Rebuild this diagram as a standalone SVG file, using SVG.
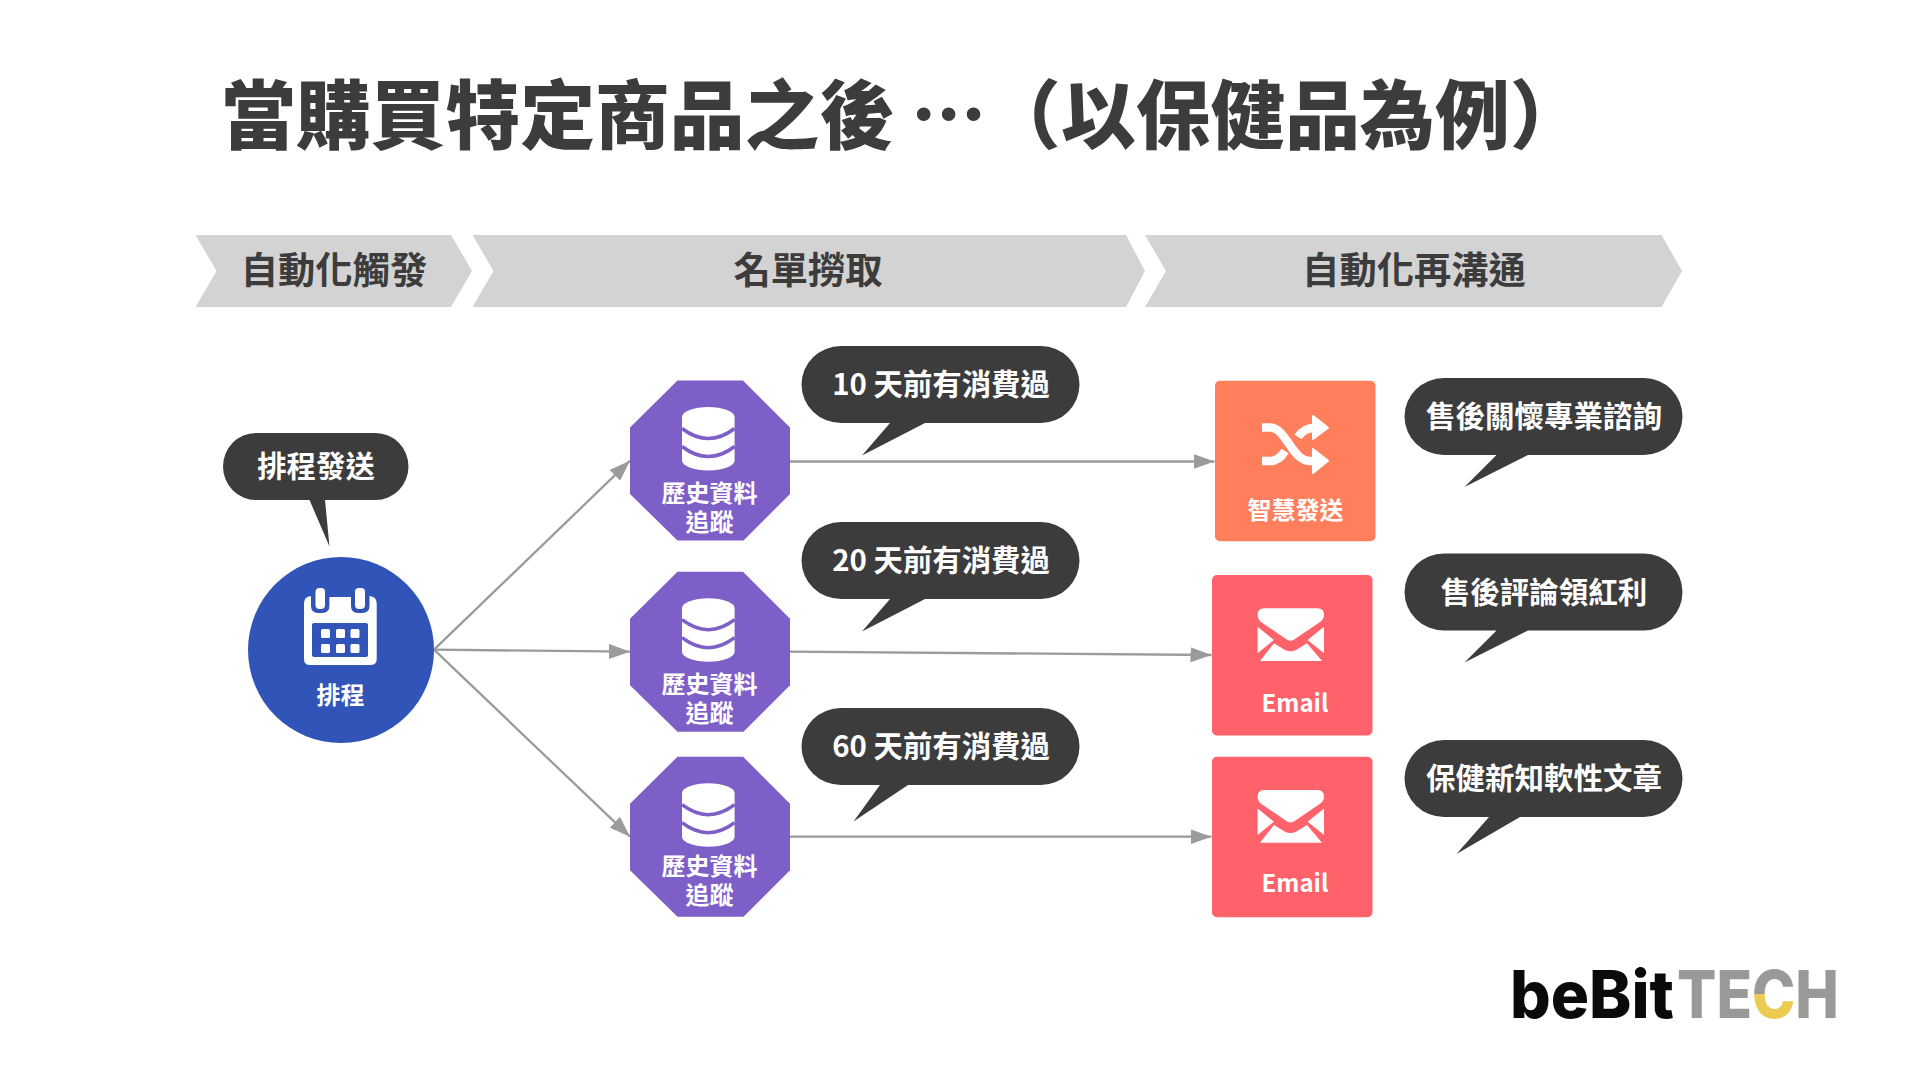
<svg xmlns="http://www.w3.org/2000/svg" width="1920" height="1080" viewBox="0 0 1920 1080">
<style>
text{font-family:"Noto Sans CJK TC","Noto Sans CJK SC",sans-serif;font-weight:700;text-anchor:middle}
.w{fill:#fff}.d{fill:#3c3c3c}
.l{font-size:24px}.b{font-size:29.400px}.b2{font-size:29.500px}.h{font-size:37.300px}
.bub{fill:#3c3c3c}.chev{fill:#d3d3d3}.oct{fill:#7e5ec7}.em{fill:#ff626a}.ic{fill:#fff}
.conn{stroke:#9b9b9b;stroke-width:2.300;fill:none;marker-end:url(#a)}
</style>
<defs>
<marker id="a" markerUnits="userSpaceOnUse" markerWidth="21" markerHeight="15" refX="21" refY="7.500" orient="auto"><path d="M0 0L21 7.500L0 15Z" fill="#9b9b9b"/></marker>
<linearGradient id="cg" gradientUnits="userSpaceOnUse" x1="0" y1="965" x2="0" y2="1025"><stop offset="0.48" stop-color="#999a98"/><stop offset="0.48" stop-color="#eccb52"/></linearGradient>
<g id="octa"><path class="oct" d="M47.500 0H113L160 47V113.500L113.500 160H47.500L0 113.500V47Z"/><path class="ic" d="M52 36.500a26.300 10 0 0 1 52.600 0V80a26.300 10 0 0 1-52.600 0Z"/><path d="M52 48Q78.300 68 104.600 48M52 66Q78.300 86 104.600 66" fill="none" stroke="#7e5ec7" stroke-width="3.500"/></g>
<g id="mail"><path class="ic" d="M52 33.300H105.500Q112 33.300 112 40Q112 44 108 47L83 64Q78.300 67.500 74 64L49 47Q45.600 44 45.600 40Q45.600 33.300 52 33.300ZM45.600 51.700L61.800 65L45.600 78.300ZM112 51.700L95.600 65L112 78.300ZM48 86H110L95 68.300L84 75Q78.300 77.500 73 75L62 68.300Z"/></g>
</defs>
<rect width="1920" height="1080" fill="#fff"/>
<text x="221" y="143" class="d" style="font-size:74.800px;text-anchor:start;font-weight:900">當購買特定商品之後 …（以保健品為例）</text>

<g id="stage-trigger"><path class="chev" d="M195.500 235H451L472 271L451 307H195.500L216.500 271Z"/><text x="334" y="284" class="d h">自動化觸發</text></g>
<g id="stage-list"><path class="chev" d="M472.500 235H1126L1145 271L1126 307H472.500L493.500 271Z"/><text x="808" y="284" class="d h">名單撈取</text></g>
<g id="stage-comm"><path class="chev" d="M1145 235H1661.500L1682 271L1661.500 307H1145L1166 271Z"/><text x="1414" y="284" class="d h">自動化再溝通</text></g>

<g id="connectors">
<path class="conn" d="M434 649.700L630 460.700"/>
<path class="conn" d="M434 649.700L630 651.700"/>
<path class="conn" d="M434 649.700L630 836.700"/>
<path class="conn" d="M790 461.500H1214.500"/>
<path class="conn" d="M790 651.700L1211.500 655"/>
<path class="conn" d="M790 836.700H1211.500"/>
</g>

<g id="schedule"><circle cx="341" cy="650" r="93" fill="#3054b8"/>
<path class="ic" d="M304 603Q304 597 311 596V606Q311 613 318 613H322Q329.400 613 329.400 606V597H351V606Q351 613 358 613H362Q369.500 613 369.500 606V596Q376.700 597 376.700 603V659Q376.700 665 370 665H310Q304 665 304 659Z"/>
<rect class="ic" x="315.500" y="588" width="9.500" height="21" rx="4"/><rect class="ic" x="355" y="588" width="10" height="21" rx="4"/>
<rect x="312" y="623" width="56" height="34" rx="2" fill="#3054b8"/>
<g class="ic"><rect x="321" y="629" width="9" height="9" rx="1.500"/><rect x="336" y="629" width="9" height="9" rx="1.500"/><rect x="350.500" y="629" width="9" height="9" rx="1.500"/><rect x="321" y="644" width="9" height="9" rx="1.500"/><rect x="336" y="644" width="9" height="9" rx="1.500"/><rect x="350.500" y="644" width="9" height="9" rx="1.500"/></g>
<text x="340.600" y="704" class="w l">排程</text></g>

<g id="track-1"><use href="#octa" x="630" y="380.500"/><text x="709.500" y="501.500" class="w l">歷史資料</text><text x="709.500" y="530.500" class="w l">追蹤</text></g>
<g id="track-2"><use href="#octa" x="630" y="571.700"/><text x="709.500" y="693" class="w l">歷史資料</text><text x="709.500" y="722" class="w l">追蹤</text></g>
<g id="track-3"><use href="#octa" x="630" y="756.700"/><text x="709.500" y="875" class="w l">歷史資料</text><text x="709.500" y="904" class="w l">追蹤</text></g>

<g id="smart-send"><rect x="1215" y="380.700" width="160.500" height="160.500" rx="5" fill="#ff7f5c"/>
<g fill="none" stroke="#fff" stroke-width="8.500"><path d="M1262 427.500H1270C1286 427.500 1292 461 1310 461H1318"/><path d="M1262 461H1270Q1279 461 1285 451"/><path d="M1298 437Q1304 427.700 1315 427.700"/></g>
<path class="ic" stroke="#fff" stroke-width="2" stroke-linejoin="round" d="M1313 449L1328 460.700L1313 473ZM1313 416L1328 427.700L1313 439Z"/>
<text x="1295.500" y="519" class="w l">智慧發送</text></g>
<g id="email-1"><rect x="1212" y="575" width="160.500" height="160.500" rx="5" class="em"/><use href="#mail" x="1212" y="575"/><text x="1295" y="712" class="w l">Email</text></g>
<g id="email-2"><rect x="1212" y="756.700" width="160.500" height="160.500" rx="5" class="em"/><use href="#mail" x="1212" y="756.700"/><text x="1295" y="892" class="w l">Email</text></g>

<g id="bubble-schedule"><path class="bub" d="M256 433H375.500A33 33.500 0 0 1 375.500 500H325L329.500 546.500L309.500 500H256A33 33.500 0 0 1 256 433Z"/><text x="316" y="477" class="w b">排程發送</text></g>
<g id="bubble-10"><path class="bub" d="M841 346H1041A38.500 38.500 0 0 1 1041 423H925L862 455.500L890 423H841A39.500 38.500 0 0 1 841 346Z"/><text x="941" y="395" class="w b">10 天前有消費過</text></g>
<g id="bubble-20"><path class="bub" d="M841 522H1041A38.500 38.500 0 0 1 1041 599H925L862 631.500L890 599H841A39.500 38.500 0 0 1 841 522Z"/><text x="941" y="571" class="w b">20 天前有消費過</text></g>
<g id="bubble-60"><path class="bub" d="M841 708H1041A38.500 38.500 0 0 1 1041 785H908L853.500 821.500L880 785H841A39.500 38.500 0 0 1 841 708Z"/><text x="941" y="757" class="w b">60 天前有消費過</text></g>
<g id="bubble-care"><path class="bub" d="M1444 378H1644A38.500 38.500 0 0 1 1644 455H1528L1464.500 487L1496.500 455H1444A39.500 38.500 0 0 1 1444 378Z"/><text x="1544" y="427" class="w b2">售後關懷專業諮詢</text></g>
<g id="bubble-review"><path class="bub" d="M1444 553.500H1644A38.500 38.500 0 0 1 1644 630.500H1528L1464.500 662.500L1496.500 630.500H1444A39.500 38.500 0 0 1 1444 553.500Z"/><text x="1544" y="603" class="w b2">售後評論領紅利</text></g>
<g id="bubble-article"><path class="bub" d="M1444 740H1644A38.500 38.500 0 0 1 1644 817H1520L1456.500 854L1489 817H1444A39.500 38.500 0 0 1 1444 740Z"/><text x="1544" y="789" class="w b2">保健新知軟性文章</text></g>

<g id="logo"><text x="1510" y="1018" style="font-family:Inter,'Liberation Sans',sans-serif;font-size:66px;font-weight:800;text-anchor:start" fill="#0a0a0a" textLength="164" lengthAdjust="spacingAndGlyphs">beBit</text>
<text x="1677" y="1018" style="font-family:Inter,'Liberation Sans',sans-serif;font-size:66px;font-weight:800;text-anchor:start" fill="#999a98" textLength="162" lengthAdjust="spacingAndGlyphs">TE<tspan fill="url(#cg)">C</tspan>H</text></g>
</svg>
